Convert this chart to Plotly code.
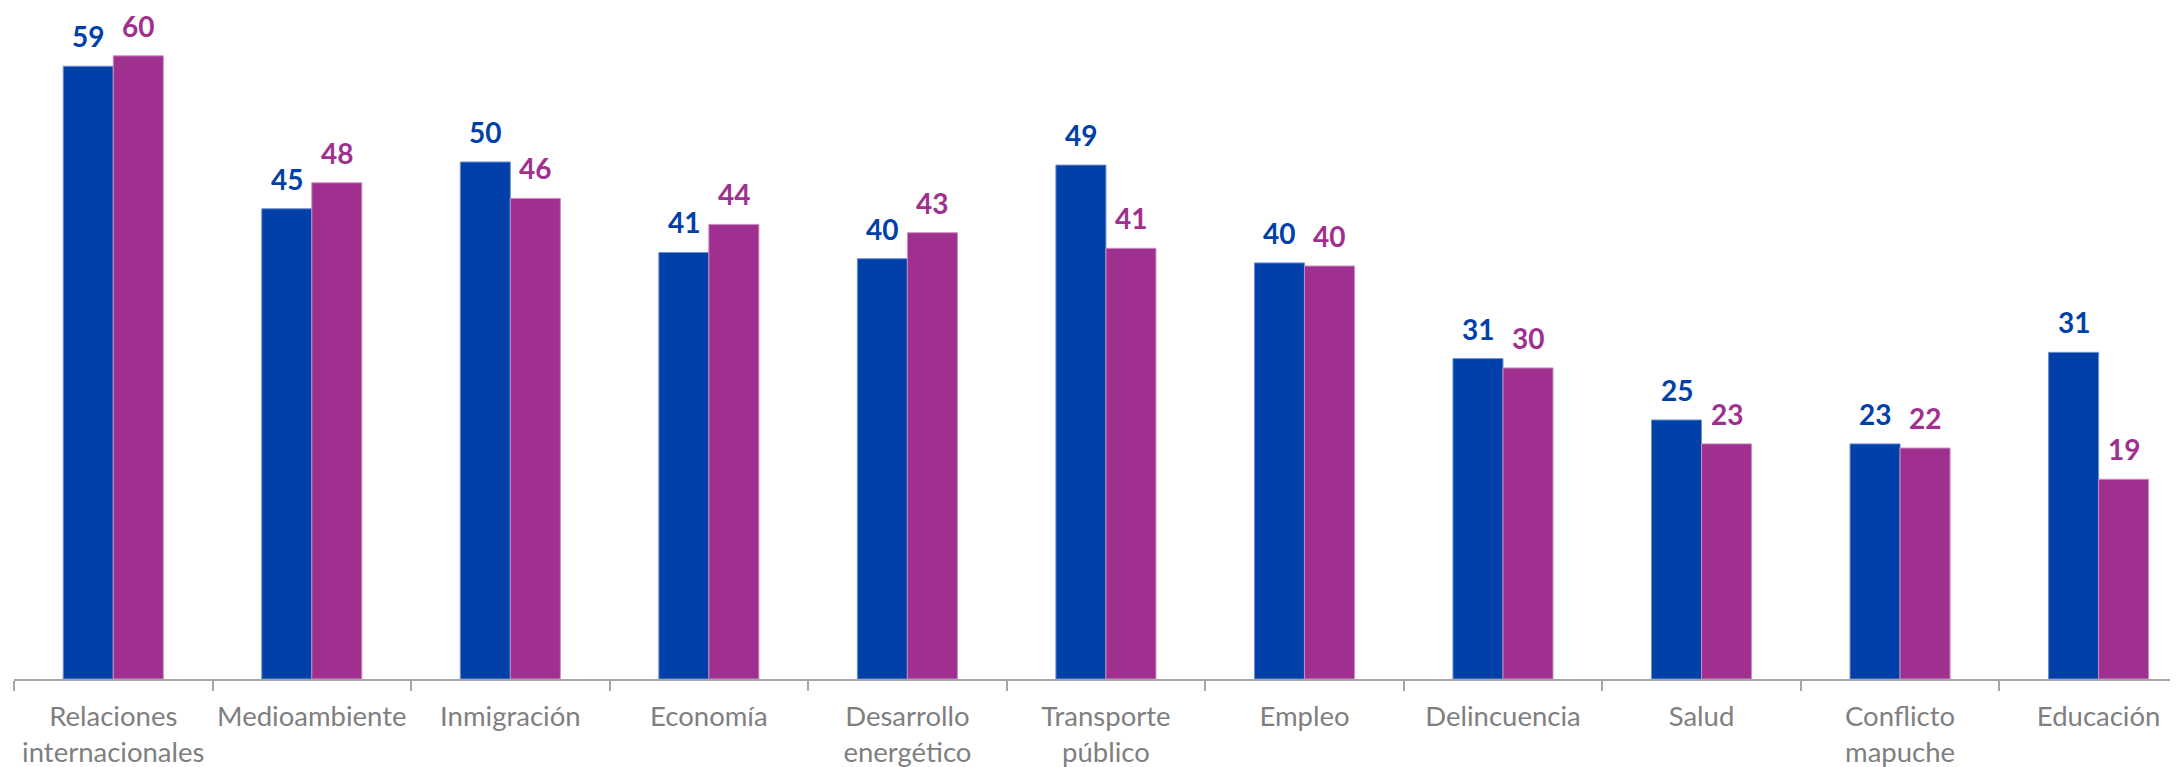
import plotly.graph_objects as go

categories = ["Relaciones<br>internacionales", "Medioambiente", "Inmigración", "Economía",
              "Desarrollo<br>energético", "Transporte<br>público", "Empleo", "Delincuencia",
              "Salud", "Conflicto<br>mapuche", "Educación"]
serie_a = [58.9, 45.2, 49.7, 41.0, 40.4, 49.4, 40.0, 30.8, 24.9, 22.6, 31.4]
serie_b = [59.9, 47.7, 46.2, 43.7, 42.9, 41.4, 39.7, 29.9, 22.6, 22.2, 19.2]
labels_a = [59, 45, 50, 41, 40, 49, 40, 31, 25, 23, 31]
labels_b = [60, 48, 46, 44, 43, 41, 40, 30, 23, 22, 19]

BLUE = "#0040A8"
PURPLE = "#A0308F"

fig = go.Figure()
fig.add_trace(go.Bar(x=categories, y=serie_a, marker=dict(color=BLUE, line=dict(color="#6f8fd0", width=1)),
                     showlegend=False, hoverinfo="skip"))
fig.add_trace(go.Bar(x=categories, y=serie_b, marker=dict(color=PURPLE, line=dict(color="#c98fbf", width=1)),
                     showlegend=False, hoverinfo="skip"))

for c, v, l in zip(categories, serie_a, labels_a):
    fig.add_annotation(x=c, y=v, text=f"<b>{l}</b>", showarrow=False, yanchor="bottom", borderpad=0,
                       xshift=-25, yshift=12, font=dict(family="Lato", size=28, color=BLUE))
for c, v, l in zip(categories, serie_b, labels_b):
    fig.add_annotation(x=c, y=v, text=f"<b>{l}</b>", showarrow=False, yanchor="bottom", borderpad=0,
                       xshift=25, yshift=12, font=dict(family="Lato", size=28, color=PURPLE))

fig.update_layout(
    width=2178, height=767,
    margin=dict(l=6, r=8, t=0, b=96),
    paper_bgcolor="white", plot_bgcolor="white",
    barmode="group", bargap=0.496, bargroupgap=0,
    xaxis=dict(range=[-0.5, 10.40], showline=True, linecolor="#a6a6a6", linewidth=2,
               ticks="outside", tickson="boundaries", ticklen=10, tickcolor="#a6a6a6", tickwidth=2,
               ticklabelstandoff=12, automargin=False, tickangle=0,
               tickfont=dict(family="Lato", size=27.5, color="#7f7f7f"), showgrid=False),
    yaxis=dict(range=[0, 64.5], visible=False, showgrid=False, zeroline=False, automargin=False),
)

fig.write_html("out.html")
